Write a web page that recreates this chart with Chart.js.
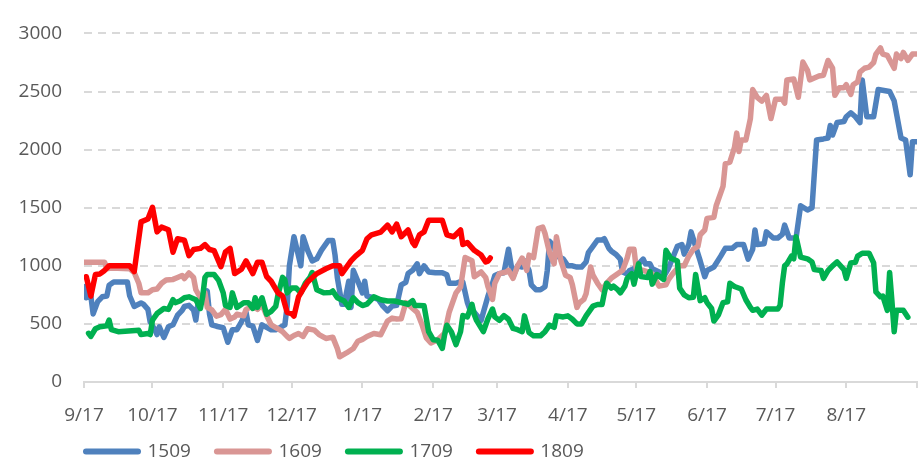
<!DOCTYPE html>
<html>
<head>
<meta charset="utf-8">
<script src="https://cdn.jsdelivr.net/npm/chart.js"></script>
<style>
  html, body { margin: 0; padding: 0; background: #fff; }
  #wrap { width: 919px; height: 463px; position: relative; }
</style>
</head>
<body>
<div id="wrap"><canvas id="myChart"></canvas></div>
<script>
// Month ticks (day offsets from the first of September) and their labels
const monthStarts = [0, 30, 61, 91, 122, 153, 181, 212, 242, 273, 303, 334, 365];
const monthLabels = ['9/17', '10/17', '11/17', '12/17', '1/17', '2/17', '3/17', '4/17', '5/17', '6/17', '7/17', '8/17', ''];
const yTicks = [0, 500, 1000, 1500, 2000, 2500, 3000];

// Series 1509
const days1509 = [0,1,3,4,6,8,10,11,13,19,20,22,23,25,26,28,29,31,32,33,35,37,39,41,43,44,46,48,49,50,52,54,55,56,58,61,63,65,67,69,71,72,74,76,78,80,82,84,86,88,89,90,92,93,95,96,98,100,102,104,107,109,110,111,113,114,116,117,118,120,122,123,124,127,129,131,133,135,137,139,141,142,144,146,147,149,151,154,157,159,160,163,165,166,168,169,171,174,175,177,179,180,182,184,186,188,190,192,193,195,196,198,200,202,203,204,206,207,210,212,214,216,218,220,221,223,225,227,228,230,231,233,235,236,238,239,241,245,246,248,249,252,254,256,260,262,263,265,266,268,270,272,273,276,279,281,284,286,289,291,293,294,295,298,299,302,304,306,307,309,312,314,317,319,321,324,326,327,328,330,333,334,336,338,340,341,343,346,348,353,355,358,360,362,363,365];
const vals1509 = [822,725,740,586,692,733,740,833,860,860,742,650,660,680,670,625,517,450,408,475,383,475,492,575,617,650,660,620,533,683,720,783,583,492,480,467,342,450,450,517,600,492,480,358,492,470,450,450,470,492,650,1000,1250,1167,1000,1250,1133,1042,1060,1133,1217,1217,1092,900,669,669,867,642,961,867,767,867,739,725,710,653,613,653,660,836,858,933,961,1017,933,1000,947,940,940,922,850,850,864,860,683,628,600,530,600,739,850,917,933,940,1142,906,1000,990,1042,961,836,794,794,820,961,1211,1170,1087,1058,1000,1000,989,989,1033,1114,1167,1222,1222,1233,1150,1128,1100,1058,947,930,960,975,1058,1017,1017,975,947,906,975,1167,1183,1100,1183,1292,1167,1042,906,960,989,1083,1150,1150,1183,1183,1058,1142,1308,1183,1190,1292,1239,1239,1270,1350,1239,1239,1517,1480,1500,2083,2092,2100,2208,2125,2233,2242,2283,2317,2283,2233,2600,2283,2283,2517,2500,2419,2100,2083,1783,2067,2067];

// Series 1609
const days1609 = [0,9,10,12,20,22,24,25,28,30,32,34,36,39,41,43,44,46,48,49,51,53,54,56,58,60,62,64,66,67,70,71,74,76,78,80,82,85,87,89,90,92,94,96,98,101,103,106,109,111,112,115,118,120,122,124,127,130,133,135,137,139,141,143,146,148,150,152,155,158,160,163,165,167,170,171,174,176,177,179,180,182,185,186,188,190,192,194,195,197,199,201,202,204,206,207,209,211,213,214,216,217,219,220,222,223,225,227,229,231,234,236,238,239,241,242,245,247,249,250,252,255,256,258,261,263,265,267,269,270,272,273,276,277,279,280,281,283,285,286,287,288,290,292,293,295,297,299,301,303,306,307,308,311,313,315,317,318,320,322,324,326,328,329,331,333,334,336,337,339,340,342,344,346,347,349,350,352,355,356,358,359,361,363,365];
const vals1609 = [1031,1031,975,980,975,942,850,767,767,794,800,850,878,883,900,917,890,938,900,794,725,767,642,620,567,580,625,542,560,583,570,625,653,625,667,572,492,458,433,392,375,400,417,392,458,446,408,375,386,289,217,250,289,350,367,392,417,406,525,550,542,545,683,650,600,500,380,336,364,420,600,767,817,1072,1044,906,947,900,822,711,850,933,947,961,892,1000,1067,961,1092,1070,1320,1333,1278,1111,1017,1250,1042,919,900,836,642,680,711,760,989,919,850,794,850,892,933,961,1067,1142,1142,975,960,947,930,892,825,836,878,933,1000,1000,1083,1142,1167,1267,1308,1408,1417,1517,1628,1683,1878,1892,2017,2142,1983,2083,2083,2267,2517,2450,2417,2467,2267,2433,2433,2400,2600,2608,2450,2753,2683,2600,2617,2633,2640,2767,2700,2467,2533,2533,2558,2475,2558,2583,2667,2700,2710,2750,2822,2875,2822,2810,2700,2822,2783,2836,2767,2822,2822];

// Series 1709
const days1709 = [2,3,5,7,10,11,12,15,24,25,28,29,30,32,35,37,39,40,42,44,46,49,51,52,53,54,57,59,61,62,64,65,67,70,72,74,75,76,78,80,82,84,85,87,88,89,91,93,95,97,99,100,102,105,108,109,111,114,116,118,120,122,124,127,130,133,136,139,142,144,145,147,149,151,153,155,157,158,159,161,163,165,166,168,170,171,172,175,177,179,180,182,184,186,188,190,192,193,195,197,200,202,204,206,207,210,212,214,216,218,220,223,225,227,228,229,231,232,234,235,237,238,240,241,243,244,247,248,249,251,254,255,257,260,261,263,265,267,268,270,272,273,275,276,278,280,282,283,285,288,290,292,293,295,297,299,302,304,305,306,307,308,310,311,312,314,317,319,320,323,324,326,328,330,333,334,336,338,339,341,344,346,347,349,350,352,353,354,355,356,359,361];
const vals1709 = [419,392,458,475,483,533,450,433,445,408,417,408,533,589,633,625,708,683,697,725,733,708,633,733,900,925,925,875,767,658,642,767,642,683,683,633,725,642,725,583,608,650,750,900,880,767,808,808,767,850,900,942,794,767,770,783,725,697,642,725,683,658,670,733,708,697,697,683,669,700,658,658,656,433,364,360,289,406,489,430,322,433,572,560,669,580,530,433,544,628,560,530,572,540,461,450,433,569,425,397,397,433,489,470,569,560,569,540,500,500,569,653,667,667,767,850,808,825,792,767,825,892,933,842,1017,908,900,950,842,925,883,1133,1067,1042,808,750,725,730,925,700,725,683,633,525,578,683,690,850,822,800,708,642,617,628,575,628,628,628,658,850,1000,1017,1083,1060,1250,1075,1060,1033,967,960,892,958,1000,1033,967,892,1025,1030,1083,1108,1108,1025,775,733,740,617,942,700,433,617,617,558];

// Series 1809
const days1809 = [1,3,5,7,9,11,15,20,22,25,28,30,32,34,37,39,41,44,46,48,51,53,55,57,60,62,64,66,69,71,74,76,78,80,82,85,87,89,91,92,94,96,98,102,106,109,112,113,117,119,122,124,126,130,133,135,137,139,142,144,145,147,149,151,157,159,162,165,166,168,171,174,176,177,178];
const vals1809 = [906,739,925,930,960,1000,1000,1000,950,1378,1403,1503,1292,1333,1310,1117,1233,1220,1087,1140,1150,1183,1140,1130,992,1120,1150,933,970,1042,933,1030,1030,908,867,767,740,600,588,567,733,800,860,933,975,1000,1000,933,1042,1083,1133,1233,1267,1290,1350,1292,1358,1250,1308,1200,1175,1267,1292,1392,1392,1267,1250,1308,1183,1200,1133,1092,1033,1040,1067];

const seriesNames = ['1509', '1609', '1709', '1809'];
const seriesColors = ['#4f81bd', '#d99694', '#00b050', '#ff0000'];

function toPoints(days, vals) {
    return days.map((d, i) => ({ x: d, y: vals[i] }));
}

const allDays = [days1509, days1609, days1709, days1809];
const allVals = [vals1509, vals1609, vals1709, vals1809];

const datasets = seriesNames.map((name, i) => ({
    label: name,
    data: toPoints(allDays[i], allVals[i]),
    borderColor: seriesColors[i],
    backgroundColor: seriesColors[i],
    borderWidth: 5.5,
    pointRadius: 0,
    tension: 0,
    borderJoinStyle: 'round',
    borderCapStyle: 'round',
    // later series are drawn on top, as in the original
    order: seriesNames.length - i
}));

// Keep the legend small in the layout, then put it where the original has it
const legendShift = {
    id: 'legendShift',
    beforeLayout(chart) {
        const legend = chart.legend;
        if (legend && !legend._slim) {
            const fit = legend.fit.bind(legend);
            legend.fit = function () {
                fit();
                this.height = 20;
            };
            legend._slim = true;
        }
    },
    afterLayout(chart) {
        chart.legend.left = 60;
        chart.legend.top = 416;
    }
};

const textColor = '#595959';
const gridColor = '#d9d9d9';

new Chart(document.getElementById('myChart').getContext('2d'), {
    type: 'line',
    data: { datasets: datasets },
    options: {
        responsive: true,
        maintainAspectRatio: false,
        animation: false,
        layout: { padding: { top: 22, right: 2, left: 0, bottom: 0 } },
        scales: {
            x: {
                type: 'linear',
                min: 0,
                max: 365,
                afterBuildTicks: scale => {
                    scale.ticks = monthStarts.map(v => ({ value: v }));
                },
                afterFit: scale => {
                    scale.height = scale.chart.height - 382 - scale.chart.legend.height;
                    scale.paddingLeft = 0;
                    scale.paddingRight = 0;
                },
                ticks: {
                    autoSkip: false,
                    maxRotation: 0,
                    padding: 16,
                    color: textColor,
                    font: { family: 'Open Sans', size: 19 },
                    callback: function (value) {
                        const idx = monthStarts.indexOf(value);
                        return idx >= 0 ? monthLabels[idx] : '';
                    }
                },
                grid: {
                    drawOnChartArea: false,
                    drawTicks: true,
                    tickLength: 6,
                    color: gridColor,
                    lineWidth: 2
                },
                border: { display: true, color: gridColor, width: 2 }
            },
            y: {
                min: 0,
                max: 3000,
                afterBuildTicks: scale => {
                    scale.ticks = yTicks.map(v => ({ value: v }));
                },
                afterFit: scale => {
                    scale.width = 84;
                },
                ticks: {
                    padding: 22,
                    color: textColor,
                    font: { family: 'Open Sans', size: 19 },
                    callback: value => String(value)
                },
                grid: {
                    drawTicks: false,
                    color: gridColor,
                    lineWidth: 2,
                    borderDash: [8, 6]
                },
                border: { display: false, dash: [8, 6] }
            }
        },
        plugins: {
            tooltip: { enabled: false },
            legend: {
                position: 'bottom',
                align: 'start',
                labels: {
                    usePointStyle: true,
                    pointStyleWidth: 52,
                    padding: 26,
                    color: textColor,
                    font: { family: 'Open Sans', size: 19 },
                    generateLabels: chart => chart.data.datasets.map((ds, i) => ({
                        text: ds.label,
                        fillStyle: ds.borderColor,
                        strokeStyle: ds.borderColor,
                        lineWidth: 6,
                        lineCap: 'round',
                        pointStyle: 'line',
                        fontColor: textColor,
                        hidden: false,
                        datasetIndex: i
                    }))
                }
            }
        }
    },
    plugins: [legendShift]
});
</script>
</body>
</html>
